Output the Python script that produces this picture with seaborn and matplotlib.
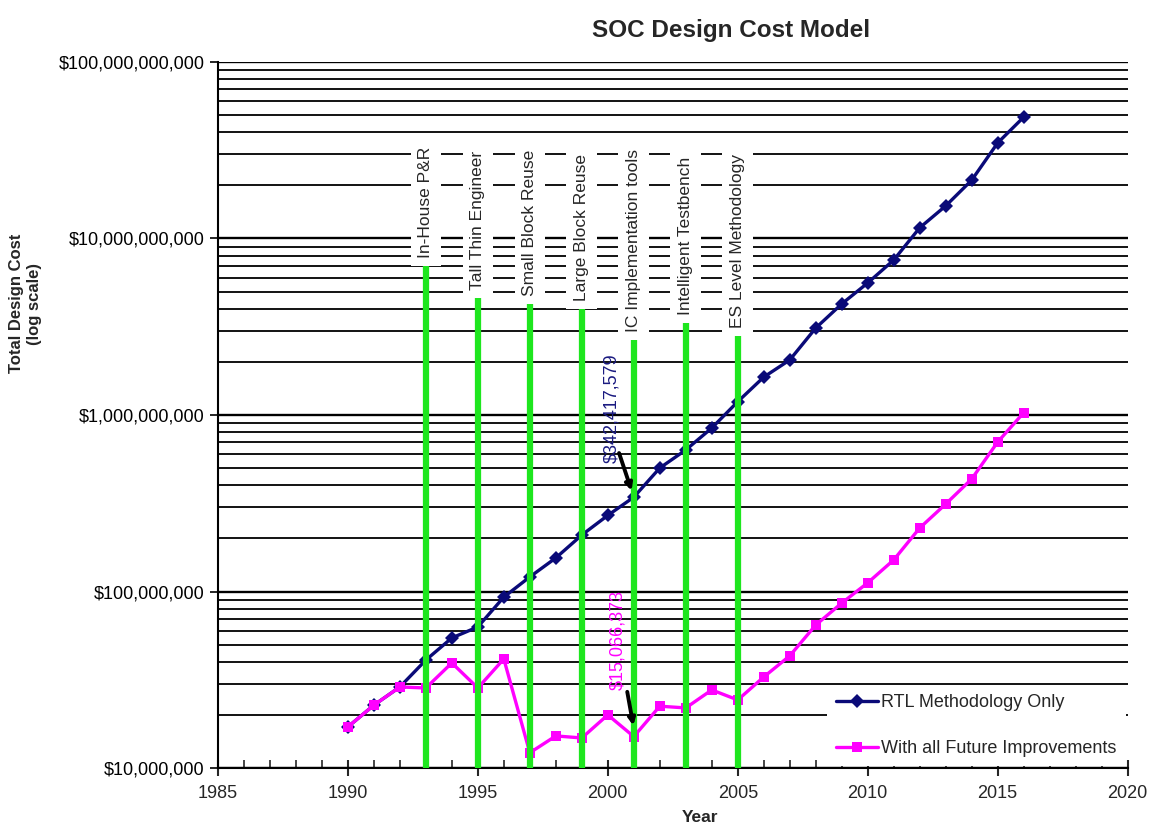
import numpy as np
import pandas as pd
import seaborn as sns
import matplotlib.pyplot as plt
from matplotlib.ticker import LogLocator, FuncFormatter, MultipleLocator

# values
years = list(range(1990, 2017))
rtl_cost = [17.1e6, 22.7e6, 28.8e6, 40.9e6, 54.6e6, 63.0e6, 93.0e6, 121e6, 155e6,
            209e6, 270e6, 342417579, 501e6, 634e6, 844e6, 1.19e9, 1.64e9, 2.05e9,
            3.11e9, 4.26e9, 5.6e9, 7.55e9, 11.5e9, 15.3e9, 21.4e9, 34.8e9, 48.7e9]
improved_cost = [17.1e6, 22.7e6, 28.8e6, 28.4e6, 39.4e6, 28.4e6, 41.5e6, 12.2e6, 15.2e6,
                 14.8e6, 20.0e6, 15066373, 22.4e6, 21.9e6, 27.7e6, 24.3e6, 32.8e6, 43.2e6,
                 64.6e6, 86e6, 112e6, 151e6, 229e6, 313e6, 434e6, 703e6, 1.03e9]

milestone_years = [1993, 1995, 1997, 1999, 2001, 2003, 2005]
milestone_tops = [7.76e9, 5.1e9, 4.7e9, 4.4e9, 2.96e9, 3.7e9, 3.1e9]
milestone_labels = ["In-House P&R", "Tall Thin Engineer", "Small Block Reuse",
                    "Large Block Reuse", "IC Implementation tools",
                    "Intelligent Testbench", "ES Level Methodology"]

df = pd.DataFrame({"Year": years * 2,
                   "Cost": rtl_cost + improved_cost,
                   "Series": ["RTL Methodology Only"] * len(years)
                   + ["With all Future Improvements"] * len(years)})

sns.set_style("white")
plt.rcParams['font.family'] = ['Liberation Sans', 'DejaVu Sans']

fig = plt.figure(figsize=(11.53, 8.32), dpi=100)
ax = fig.add_axes([0.189, 0.0769, 0.789, 0.8486])

sns.lineplot(data=df, x="Year", y="Cost", hue="Series", style="Series",
             palette={"RTL Methodology Only": "#0a0a78",
                      "With all Future Improvements": "#ff00ff"},
             markers={"RTL Methodology Only": "D",
                      "With all Future Improvements": "s"},
             dashes=False, linewidth=2.4, markersize=7, markeredgewidth=0,
             ax=ax, zorder=2)

ax.set_yscale("log")
ax.set_xlim(1985, 2020)
ax.set_ylim(1e7, 1e11)

# milestone bars and labels
ax.vlines(milestone_years, 1e7, milestone_tops, color="#1ee61e", lw=4.5, zorder=3)
for yr, top, lab in zip(milestone_years, milestone_tops, milestone_labels):
    ax.text(yr, top, lab, rotation=90, ha="center", va="bottom", fontsize=12.5,
            zorder=4, bbox=dict(boxstyle="square,pad=0.45", fc="white", ec="none"))

# callouts
ax.text(2000.15, 5.35e8, "$342,417,579", rotation=90, ha="center", va="bottom",
        fontsize=13, color="#1a1a80", zorder=5)
ax.annotate("", xy=(2000.95, 3.6e8), xytext=(2000.4, 6.3e8),
            arrowprops=dict(arrowstyle="-|>", color="black", lw=2.8), zorder=5)
ax.text(2000.38, 2.77e7, "$15,066,373", rotation=90, ha="center", va="bottom",
        fontsize=13, color="#ff00ff", zorder=5)
ax.annotate("", xy=(2001.0, 1.68e7), xytext=(2000.73, 2.8e7),
            arrowprops=dict(arrowstyle="-|>", color="black", lw=2.8), zorder=5)

# axes, ticks, grid
ax.yaxis.set_major_locator(LogLocator(base=10, numticks=10))
ax.yaxis.set_minor_locator(LogLocator(base=10, subs=np.arange(2, 10), numticks=20))
ax.yaxis.set_major_formatter(FuncFormatter(lambda v, p: f"${v:,.0f}"))
ax.xaxis.set_major_locator(MultipleLocator(5))
ax.xaxis.set_minor_locator(MultipleLocator(1))
ax.grid(True, which="major", axis="y", color="black", lw=1.7)
ax.grid(True, which="minor", axis="y", color="black", lw=1.3)
ax.set_axisbelow(True)

ax.tick_params(axis="y", which="major", direction="out", length=6, width=1.2,
               labelsize=13, colors="black", left=True)
ax.tick_params(axis="y", which="minor", length=0)
ax.tick_params(axis="x", which="major", direction="inout", length=12, width=1.5,
               labelsize=13, pad=6, bottom=True)
ax.tick_params(axis="x", which="minor", direction="in", length=6, width=1.2, bottom=True)

for side in ["top", "right"]:
    ax.spines[side].set_visible(False)
for side in ["left", "bottom"]:
    ax.spines[side].set_color("black")
    ax.spines[side].set_linewidth(1.5)

ax.set_xlabel("")
ax.set_ylabel("")
fig.text(0.022, 0.635, "Total Design Cost\n(log scale)", rotation=90, ha="center",
         va="center", fontsize=12, fontweight="bold", linespacing=1.3)
fig.text(0.607, 0.008, "Year", ha="center", va="bottom", fontsize=12.5, fontweight="bold")
fig.text(0.634, 0.963, "SOC Design Cost Model", ha="center", va="center",
         fontsize=17.5, fontweight="bold")

leg = ax.legend(loc="lower right", bbox_to_anchor=(1.0, 0.0), frameon=True,
                fontsize=13, handlelength=2.3, labelspacing=1.6, borderpad=0.5,
                borderaxespad=0.1, handletextpad=0.2)
leg.get_frame().set_facecolor("white")
leg.get_frame().set_edgecolor("none")
leg.get_frame().set_alpha(1.0)

fig.savefig("out.png", dpi=100)
